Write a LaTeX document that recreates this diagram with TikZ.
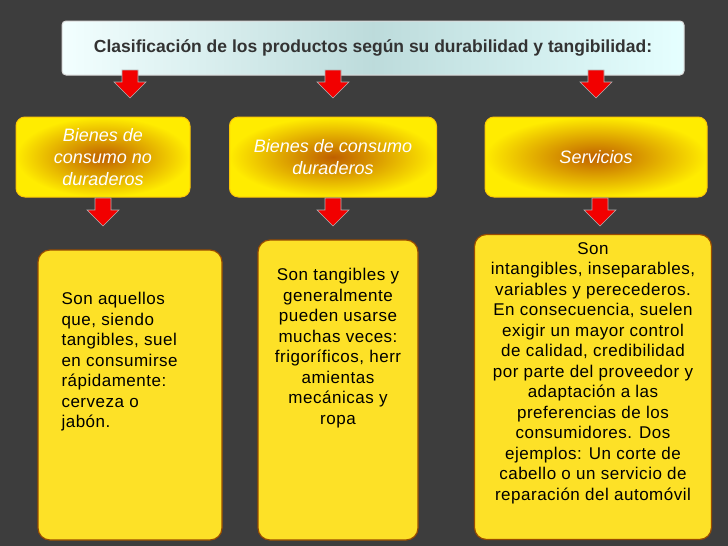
\documentclass[tikz,border=0pt]{standalone}
\usepackage{fontspec}
\setmainfont{Liberation Sans}
\begin{document}
\begin{tikzpicture}[x=1pt,y=-1pt,
  title/.style={draw=white!70!gray,line width=1pt,rounded corners=4pt,left color=white!95!cyan,right color=cyan!10!white,middle color=cyan!30!gray!40,minimum width=622pt,minimum height=54pt,font=\bfseries\fontsize{17.5}{20}\selectfont,text=black!80},
  gold/.style={rounded corners=9pt,inner color=orange!75!black,outer color=yellow!85!orange,draw=yellow!60!orange,line width=1pt,font=\itshape\fontsize{18}{22}\selectfont,text=white,align=center},
  ylw/.style={rounded corners=12pt,fill=yellow!80!orange!85!white,draw=orange!60!black,line width=1.2pt},
  body/.style={font=\fontsize{17}{20.5}\selectfont\addfontfeatures{LetterSpace=3},text=black},
  redarrow/.style={fill=red!95!black,draw=gray!60,line width=0.6pt}]
\fill[black!76] (0,0) rectangle (728,546);
\useasboundingbox (0,0) rectangle (728,546);
\node[title] (t) at (373,48) {Clasificación de los productos según su durabilidad y tangibilidad:};
\newcommand{\rarrow}[2]{\draw[redarrow] (#1-8,#2) -- (#1+8,#2) -- (#1+8,#2+12) -- (#1+16,#2+12) -- (#1,#2+28) -- (#1-16,#2+12) -- (#1-8,#2+12) -- cycle;}
\rarrow{130}{70}\rarrow{333}{70}\rarrow{596}{70}
\node[gold,minimum width=174pt,minimum height=80pt] (b1) at (103,157) {};
\node[font=\itshape\fontsize{18}{22}\selectfont,text=white,align=center] (b1t) at (103,157) {Bienes de\\consumo no\\duraderos};
\node[gold,minimum width=207pt,minimum height=80pt] (b2) at (333,157) {Bienes de consumo\\duraderos};
\node[gold,minimum width=222pt,minimum height=80pt] (b3) at (596,157) {Servicios};
\rarrow{103}{198}\rarrow{333}{198}\rarrow{600}{198}
\node[ylw,minimum width=184pt,minimum height=290pt] (c1) at (130,395) {};
\node[body,align=left,anchor=north west] (c1t) at (58,289) {Son aquellos\\que, siendo\\tangibles, suel\\en consumirse\\rápidamente:\\cerveza o\\jabón.};
\node[ylw,minimum width=160pt,minimum height=300pt] (c2) at (338,390) {};
\node[body,align=center,anchor=north] (c2t) at (338,265) {Son tangibles y\\generalmente\\pueden usarse\\muchas veces:\\frigoríficos, herr\\amientas\\mecánicas y\\ropa};
\node[ylw,minimum width=237pt,minimum height=305pt] (c3) at (593,387) {};
\node[body,align=center,anchor=north] (c3t) at (593,239) {Son\\intangibles, inseparables,\\variables y perecederos.\\En consecuencia, suelen\\exigir un mayor control\\de calidad, credibilidad\\por parte del proveedor y\\adaptación a las\\preferencias de los\\consumidores. Dos\\ejemplos: Un corte de\\cabello o un servicio de\\reparación del automóvil};
\end{tikzpicture}
\end{document}
